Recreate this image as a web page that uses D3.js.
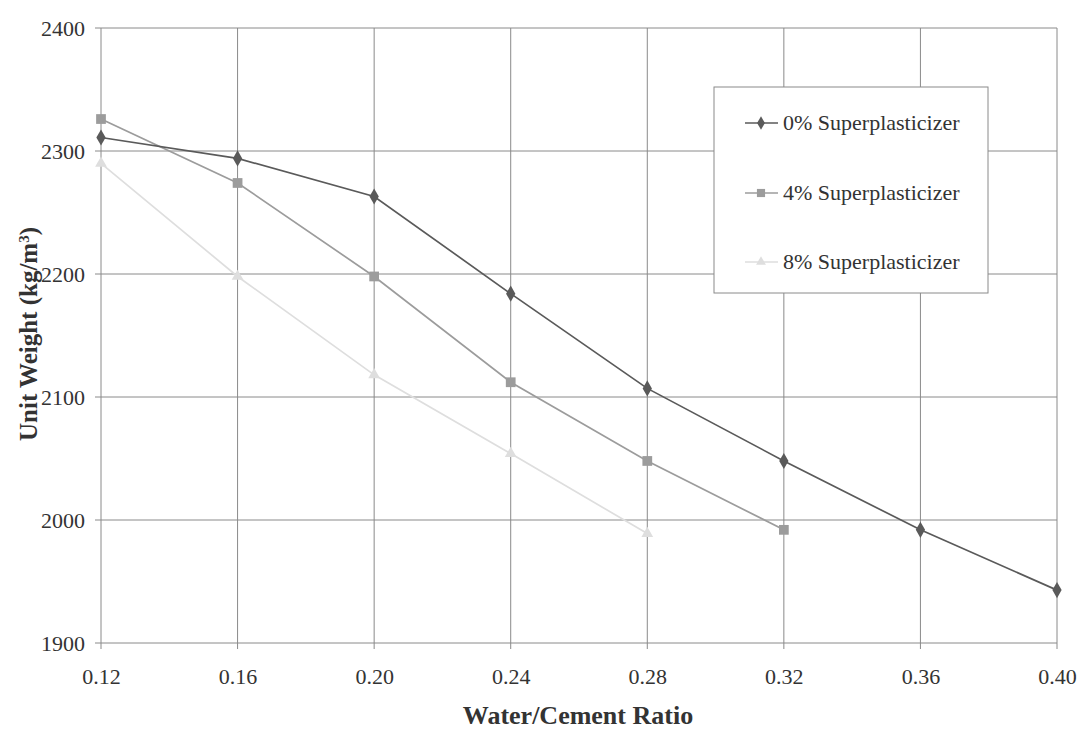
<!DOCTYPE html>
<html><head><meta charset="utf-8">
<script src="https://cdn.jsdelivr.net/npm/d3@7"></script>
<style>body{margin:0;background:#fff}svg{display:block}svg text{font-family:"Liberation Serif","Tinos","Times New Roman",Times,"DejaVu Serif",serif !important;fill:#333}</style>
</head><body><svg id="c" width="1079" height="729"></svg>
<script>
const ratios = [0.12, 0.16, 0.20, 0.24, 0.28, 0.32, 0.36, 0.40];
const sp0 = [2311, 2294, 2263, 2184, 2107, 2048, 1992, 1943];
const sp4 = [2326, 2274, 2198, 2112, 2048, 1992];
const sp8 = [2290, 2198, 2118, 2054, 1989];
const seriesNames = ["0% Superplasticizer", "4% Superplasticizer", "8% Superplasticizer"];
const yTicks = [1900, 2000, 2100, 2200, 2300, 2400];
const xTickLabels = ["0.12", "0.16", "0.20", "0.24", "0.28", "0.32", "0.36", "0.40"];

const FONT = '"Liberation Serif", Tinos, "Times New Roman", Times, "DejaVu Serif", serif';
const svg = d3.select("#c");
const L = 101, R = 1057, T = 28, B = 643;
const x = d3.scaleLinear().domain([0.12, 0.40]).range([L, R]);
const y = d3.scaleLinear().domain([1900, 2400]).range([B, T]);
const gridC = "#8a8a8a";

// grid
const g = svg.append("g");
g.selectAll(".hg").data(yTicks).join("line")
  .attr("x1", L - 6).attr("x2", R).attr("y1", d => y(d)).attr("y2", d => y(d))
  .attr("stroke", gridC).attr("stroke-width", 1);
g.selectAll(".vg").data(ratios).join("line")
  .attr("x1", d => x(d)).attr("x2", d => x(d)).attr("y1", T).attr("y2", B + 6)
  .attr("stroke", gridC).attr("stroke-width", 1);

// axes labels via d3 axis
const yAxis = svg.append("g").attr("transform", `translate(${L - 16},0)`)
  .call(d3.axisLeft(y).tickValues(yTicks).tickSize(0).tickPadding(0).tickFormat(d3.format("d")));
yAxis.attr("font-family", FONT);
yAxis.select(".domain").remove();
yAxis.selectAll("text").attr("font-size", 22).attr("fill", "#333").attr("dy", "0.34em");

const xAxis = svg.append("g").attr("transform", `translate(0,${B + 25})`)
  .call(d3.axisBottom(x).tickValues(ratios).tickSize(0).tickPadding(0).tickFormat((d, i) => xTickLabels[i]));
xAxis.attr("font-family", FONT);
xAxis.select(".domain").remove();
xAxis.selectAll("text").attr("font-size", 22).attr("fill", "#333");

// titles
svg.append("text").attr("x", 578).attr("y", 724).attr("text-anchor", "middle")
  .attr("font-size", 26).attr("font-weight", "bold").text("Water/Cement Ratio");
const yt = svg.append("text").attr("transform", "translate(37,334) rotate(-90)")
  .attr("text-anchor", "middle").attr("font-size", 25).attr("font-weight", "bold");
yt.append("tspan").text("Unit Weight (kg/m");
yt.append("tspan").attr("baseline-shift", "super").attr("font-size", 15).text("3");
yt.append("tspan").text(")");

// series
const series = [
  {name: seriesNames[0], vals: sp0, color: "#5a5a5a", sym: d3.symbolDiamond, size: 75},
  {name: seriesNames[1], vals: sp4, color: "#9c9c9c", sym: d3.symbolSquare, size: 95},
  {name: seriesNames[2], vals: sp8, color: "#dedede", sym: d3.symbolTriangle, size: 60}
];
const line = d3.line().x((d, i) => x(ratios[i])).y(d => y(d));
series.slice().reverse().forEach(s => {
  svg.append("path").datum(s.vals).attr("d", line).attr("fill", "none")
    .attr("stroke", s.color).attr("stroke-width", 1.7);
  svg.selectAll(null).data(s.vals).join("path")
    .attr("transform", (d, i) => `translate(${x(ratios[i])},${y(d)})`)
    .attr("d", d3.symbol().type(s.sym).size(s.size)).attr("fill", s.color);
});

// legend
const lg = svg.append("g");
lg.append("rect").attr("x", 714).attr("y", 87).attr("width", 274).attr("height", 206)
  .attr("fill", "#fff").attr("stroke", "#8a8a8a").attr("stroke-width", 1);
const rowsY = [123, 193, 262];
series.forEach((s, i) => {
  const yy = rowsY[i];
  lg.append("line").attr("x1", 745).attr("x2", 778).attr("y1", yy).attr("y2", yy)
    .attr("stroke", s.color).attr("stroke-width", 1.7);
  lg.append("path").attr("transform", `translate(761,${yy})`)
    .attr("d", d3.symbol().type(s.sym).size(s.size * 0.7)).attr("fill", s.color);
  lg.append("text").attr("x", 783).attr("y", yy + 7).attr("font-size", 22).text(s.name);
});
</script></body></html>
